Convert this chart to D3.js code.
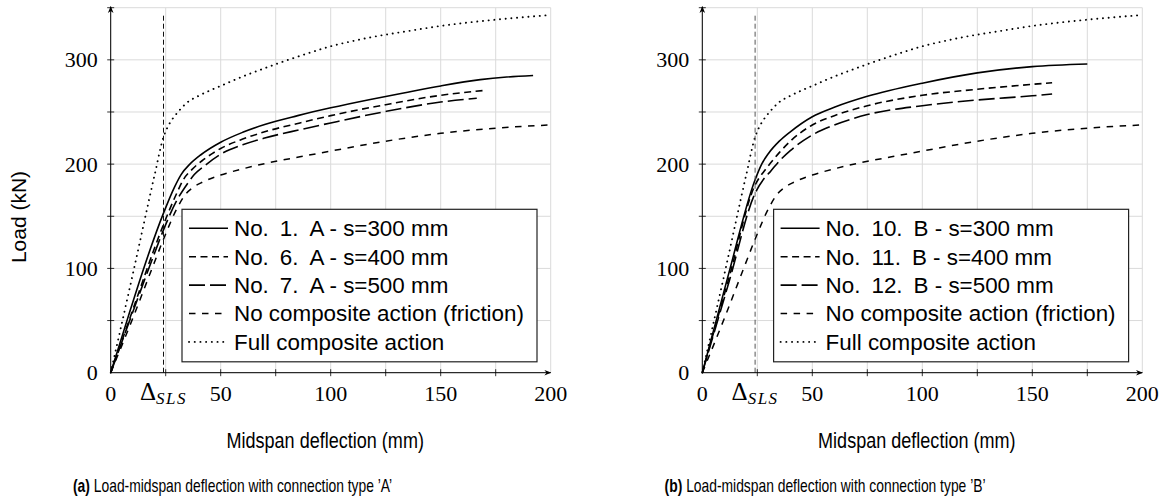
<!DOCTYPE html>
<html><head><meta charset="utf-8">
<script src="https://cdn.jsdelivr.net/npm/d3@7"></script>
<style>body{margin:0;background:#fff}</style>
</head><body><svg id="c" width="1164" height="499"></svg>
<script>
// ---- data ----
const xTickValues = [0, 50, 100, 150, 200];
const yTickValues = [0, 100, 200, 300];
const xGridValues = [0, 25, 50, 75, 100, 125, 150, 175, 200];
const yGridValues = [0, 50, 100, 150, 200, 250, 300, 350];
const deltaSLS = 24;

const fullComposite = [[0,0],[10,94],[20,190],[24,226],[26,236],[28,243],[31,251],[35,259.5],[40,265.5],[45,270.5],[50,275],[60,284],[70,292],[80,299.5],[90,306.5],[100,313],[110,318],[118,321.5],[135,327.5],[150,332.5],[175,338.5],[200,343]];
const noComposite = [[0,0],[10,52],[18.8,100],[24,128],[30,157],[34,171],[37,177],[42,183],[50,189.5],[60,195.5],[70,200.5],[86,207],[100,212.5],[125,222],[150,229.5],[175,234.5],[200,237.6]];

const specA300 = [[0,0],[8,54],[15,100],[24,153],[29,178],[32,190],[36,200],[41,209],[50,221],[60,230.5],[70,238],[85,246.5],[100,254],[118,262],[135,269],[150,275],[168,281],[180,283.5],[192,285]];
const specA400 = [[0,0],[10,60],[20,120],[24,142],[30,172],[33,185],[37,195],[42,204],[50,215],[60,224],[70,231],[86,239.5],[100,246.5],[125,257],[150,266],[169,270.5]];
const specA500 = [[0,0],[10,58],[20,115],[24,137],[30,165],[34.8,181],[38,190],[43,199],[50,209.5],[60,218.5],[70,225],[86,233],[100,239.5],[125,250.5],[150,259.5],[166.4,263.2]];

const specB300 = [[0,0],[12,95],[24,185],[27,200],[30,210],[35,222],[40,231],[50,245.5],[60,254.5],[75,265],[100,277.6],[125,287.5],[150,293.5],[175,296]];
const specB400 = [[0,0],[12,90],[24,180],[28,193],[31,201],[35,211],[40,222],[50,237.5],[60,246.5],[75,256],[100,266],[125,271.8],[150,276.5],[159,278]];
const specB500 = [[0,0],[12,86],[24,172],[28,186],[31,193],[35,203],[40,213],[50,228],[60,237.5],[75,247.5],[100,256],[125,261.5],[150,265.5],[159,267.3]];

const legendA = [["No.", "1.", "A - s=300 mm"], ["No.", "6.", "A - s=400 mm"], ["No.", "7.", "A - s=500 mm"], ["No composite action (friction)"], ["Full composite action"]];
const legendB = [["No.", "10.", "B - s=300 mm"], ["No.", "11.", "B - s=400 mm"], ["No.", "12.", "B - s=500 mm"], ["No composite action (friction)"], ["Full composite action"]];
const captionTags = ["(a)", "(b)"];
const captionTexts = [" Load-midspan deflection with connection type \u2019A\u2019", " Load-midspan deflection with connection type \u2019B\u2019"];
const xLabel = "Midspan deflection (mm)";
const yLabel = "Load (kN)";

// ---- styles ----
const styles = [
  {dash: null, w: 1.6, cap: "butt"},
  {dash: "7 4.5", w: 1.6, cap: "butt"},
  {dash: "16 5", w: 1.6, cap: "butt"},
  {dash: "6.5 6.5", w: 1.5, cap: "butt"},
  {dash: "0.1 5.6", w: 1.9, cap: "round"}
];

const svg = d3.select("#c");
const defs = svg.append("defs");
defs.append("marker").attr("id","arr").attr("viewBox","0 0 10 10").attr("refX",9).attr("refY",5)
  .attr("markerWidth",7).attr("markerHeight",7).attr("markerUnits","userSpaceOnUse").attr("orient","auto")
  .append("path").attr("d","M0,1 L10,5 L0,9 L3,5 Z").attr("fill","#000");

const sans = "'Liberation Sans',Arial,Helvetica,sans-serif";
const serif = "'Liberation Serif','Times New Roman',serif";

function panel(x0, series, legendNames, capIdx, showY, slsColor) {
  const x = d3.scaleLinear().domain([0,200]).range([x0, x0+440]);
  const y = d3.scaleLinear().domain([0,350]).range([372.7, 7.7]);
  const g = svg.append("g");

  // grid
  g.selectAll(".gx").data(xGridValues).enter().append("line")
    .attr("x1", d=>x(d)).attr("x2", d=>x(d)).attr("y1", y(0)).attr("y2", y(350))
    .attr("stroke","#dadada").attr("stroke-width",1);
  g.selectAll(".gy").data(yGridValues).enter().append("line")
    .attr("x1", x(0)).attr("x2", x(200)).attr("y1", d=>y(d)).attr("y2", d=>y(d))
    .attr("stroke","#dadada").attr("stroke-width",1);

  // curves
  const line = d3.line().x(d=>x(d[0])).y(d=>y(d[1])).curve(d3.curveMonotoneX);
  series.forEach((s,i)=>{
    const st = styles[i];
    g.append("path").attr("d", line(s)).attr("fill","none").attr("stroke","#000")
      .attr("stroke-width", st.w).attr("stroke-dasharray", st.dash).attr("stroke-linecap", st.cap)
      .attr("stroke-linejoin","round");
  });

  // delta SLS line
  g.append("line").attr("x1", x(deltaSLS)).attr("x2", x(deltaSLS)).attr("y1", y(0)).attr("y2", y(344))
    .attr("stroke", slsColor).attr("stroke-width",1).attr("stroke-dasharray","5 3");

  // axes
  g.append("line").attr("x1", x(0)).attr("x2", x(200)).attr("y1", y(0)).attr("y2", y(0))
    .attr("stroke","#000").attr("stroke-width",1).attr("marker-end","url(#arr)");
  g.append("line").attr("x1", x(0)).attr("x2", x(0)).attr("y1", y(0)).attr("y2", y(350)-1)
    .attr("stroke","#000").attr("stroke-width",1).attr("marker-end","url(#arr)");
  g.selectAll(".tx").data(xGridValues.slice(1,-1)).enter().append("line")
    .attr("x1", d=>x(d)).attr("x2", d=>x(d)).attr("y1", y(0)-3.5).attr("y2", y(0)+3.5)
    .attr("stroke","#000").attr("stroke-width",0.8);
  g.selectAll(".ty").data(yGridValues.slice(1)).enter().append("line")
    .attr("x1", x(0)-3.5).attr("x2", x(0)+3.5).attr("y1", d=>y(d)).attr("y2", d=>y(d))
    .attr("stroke","#000").attr("stroke-width",0.8);

  g.selectAll(".lx").data(xTickValues).enter().append("text")
    .attr("x", d=>x(d)).attr("y", 401).attr("text-anchor","middle")
    .attr("font-family", serif).attr("font-size", 22).text(d=>d);
  g.selectAll(".ly").data(yTickValues).enter().append("text")
    .attr("x", x(0)-13).attr("y", d=>y(d)+7.5).attr("text-anchor","end")
    .attr("font-family", serif).attr("font-size", 22).text(d=>d);
  const dl = g.append("text").attr("x", x(deltaSLS)).attr("y", 400).attr("text-anchor","middle")
    .attr("font-family", serif);
  dl.append("tspan").attr("font-size", 25).text("\u0394");
  dl.append("tspan").attr("font-size", 17).attr("font-style","italic").attr("letter-spacing", 1.5).attr("dy", 4).text("SLS");

  // legend
  const lx = x0 + 71.3, ly = 209.3, lw = 355, lh = 152.5;
  g.append("rect").attr("x", lx).attr("y", ly).attr("width", lw).attr("height", lh)
    .attr("fill","#fff").attr("stroke","#222").attr("stroke-width",1.2);
  legendNames.forEach((parts,i)=>{
    const cy = 228.3 + i*28.4;
    const st = styles[i];
    g.append("line").attr("x1", lx+7).attr("x2", lx+46).attr("y1", cy).attr("y2", cy)
      .attr("stroke","#000").attr("stroke-width", st.w).attr("stroke-dasharray", st.dash)
      .attr("stroke-linecap", st.cap);
    const t = g.append("text").attr("x", lx+52).attr("y", cy+7.8)
      .attr("font-family", sans).attr("font-size", 22.4);
    parts.forEach((p,j)=>{
      t.append("tspan").attr("dx", j === 0 ? 0 : 11).text(p);
    });
  });

  // axis labels (condensed as in the reference)
  g.append("text").attr("transform", `translate(${x(100)-5.5},448) scale(0.82,1)`).attr("text-anchor","middle")
    .attr("font-family", sans).attr("font-size", 22).text(xLabel);
  if (showY) {
    g.append("text").attr("transform", `translate(26,217) rotate(-90)`).attr("text-anchor","middle")
      .attr("font-family", sans).attr("font-size", 21).text(yLabel);
  }
  // caption
  const cap = g.append("text").attr("transform", `translate(${x0 - 37.7},492) scale(0.77,1)`)
    .attr("font-family", sans).attr("font-size", 18);
  cap.append("tspan").attr("font-weight","bold").text(captionTags[capIdx]);
  cap.append("tspan").text(captionTexts[capIdx]);
}

panel(110.7, [specA300, specA400, specA500, noComposite, fullComposite], legendA, 0, true, "#111");
panel(702.3, [specB300, specB400, specB500, noComposite, fullComposite], legendB, 1, false, "#555");
</script></body></html>
